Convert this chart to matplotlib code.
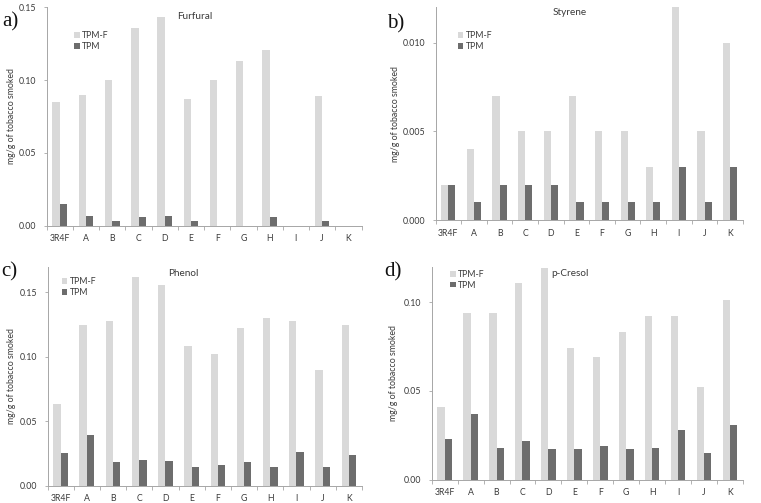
import matplotlib
matplotlib.use("Agg")
import matplotlib.pyplot as plt
import numpy as np

plt.rcParams['font.family'] = ['Lato', 'DejaVu Sans']

categories = ["3R4F", "A", "B", "C", "D", "E", "F", "G", "H", "I", "J", "K"]
series_names = ["TPM-F", "TPM"]

furfural_tpmf = [0.085, 0.090, 0.100, 0.136, 0.143, 0.087, 0.100, 0.113, 0.121, 0.0, 0.089, 0.0]
furfural_tpm = [0.015, 0.007, 0.003, 0.006, 0.007, 0.003, 0.0, 0.0, 0.006, 0.0, 0.003, 0.0]

styrene_tpmf = [0.002, 0.004, 0.007, 0.005, 0.005, 0.007, 0.005, 0.005, 0.003, 0.012, 0.005, 0.010]
styrene_tpm = [0.002, 0.001, 0.002, 0.002, 0.002, 0.001, 0.001, 0.001, 0.001, 0.003, 0.001, 0.003]

phenol_tpmf = [0.063, 0.125, 0.128, 0.162, 0.156, 0.108, 0.102, 0.122, 0.130, 0.128, 0.090, 0.125]
phenol_tpm = [0.025, 0.039, 0.018, 0.020, 0.019, 0.014, 0.016, 0.018, 0.014, 0.026, 0.014, 0.024]

cresol_tpmf = [0.041, 0.094, 0.094, 0.111, 0.119, 0.074, 0.069, 0.083, 0.092, 0.092, 0.052, 0.101]
cresol_tpm = [0.023, 0.037, 0.018, 0.022, 0.017, 0.017, 0.019, 0.017, 0.018, 0.028, 0.015, 0.031]

titles = ["Furfural", "Styrene", "Phenol", "p-Cresol"]
panel_labels = ["a)", "b)", "c)", "d)"]
yticks_list = [[0.0, 0.05, 0.10, 0.15], [0.0, 0.005, 0.010], [0.0, 0.05, 0.10, 0.15], [0.0, 0.05, 0.10]]
ytick_fmt = ["{:.2f}", "{:.3f}", "{:.2f}", "{:.2f}"]
ylims = [0.15, 0.012, 0.17, 0.12]

W, H = 761, 503
fig = plt.figure(figsize=(W / 100, H / 100), dpi=100)

# axes rectangles in pixels: left, right, top, bottom
rects_px = [(46.7, 361.5, 7.3, 225.7),
            (435.5, 743, 7.0, 220.2),
            (47.5, 362, 266.7, 485.5),
            (431.7, 743, 266.7, 479.6)]
title_pos = [(0.47, 0.958), (0.436, 0.972), (0.433, 0.971), (0.444, 0.970)]
legend_pos = [(0.088, 0.845), (0.072, 0.84), (0.046, 0.907), (0.06, 0.939)]
label_pos_px = [(2, 26), (387, 28), (1, 276), (384, 276)]
ylabel_x_px = [12, 396, 12, 394]

light = "#d9d9d9"
dark = "#6d6d6d"
spine_c = "#a6a6a6"
text_c = "#3a3a3a"

data = [(furfural_tpmf, furfural_tpm), (styrene_tpmf, styrene_tpm),
        (phenol_tpmf, phenol_tpm), (cresol_tpmf, cresol_tpm)]

fs = 6.3
x = np.arange(len(categories))
bw = 0.28
for k in range(4):
    l, r, t, b = rects_px[k]
    ax = fig.add_axes([l / W, 1 - b / H, (r - l) / W, (b - t) / H])
    v1, v2 = data[k]
    ax.bar(x - bw / 2, v1, bw, color=light, label=series_names[0])
    ax.bar(x + bw / 2, v2, bw, color=dark, label=series_names[1])
    ax.set_xlim(-0.5, len(categories) - 0.5)
    ax.set_ylim(0, ylims[k])
    ax.set_xticks(x)
    ax.set_xticklabels(categories, fontsize=fs, color=text_c)
    ax.set_xticks(np.arange(len(categories) + 1) - 0.5, minor=True)
    ax.tick_params(axis='x', which='major', length=0, pad=6)
    ax.tick_params(axis='x', which='minor', length=3, color=spine_c, width=0.6)
    ax.set_yticks(yticks_list[k])
    ax.set_yticklabels([ytick_fmt[k].format(v) for v in yticks_list[k]], fontsize=fs, color=text_c)
    ax.tick_params(axis='y', length=2.5, color=spine_c, width=0.6, pad=5)
    for s in ["top", "right"]:
        ax.spines[s].set_visible(False)
    for s in ["left", "bottom"]:
        ax.spines[s].set_color(spine_c)
        ax.spines[s].set_linewidth(0.7)
    ax.text(title_pos[k][0], title_pos[k][1], titles[k], transform=ax.transAxes,
            ha='center', va='center', fontsize=7.2, color=text_c)
    leg = ax.legend(loc='center left', bbox_to_anchor=legend_pos[k], frameon=False,
                    fontsize=fs, handlelength=0.6, handleheight=0.6, handletextpad=0.3,
                    labelspacing=0.2, borderpad=0, borderaxespad=0)
    for txt in leg.get_texts():
        txt.set_color(text_c)
    # y label
    yc = 1 - ((t + b) / 2) / H
    fig.text(ylabel_x_px[k] / W, yc, "mg/g of tobacco smoked", rotation=90,
             ha='center', va='center', fontsize=fs, color=text_c)
    fig.text(label_pos_px[k][0] / W, 1 - label_pos_px[k][1] / H, panel_labels[k],
             family='Liberation Serif', fontsize=15, ha='left', va='baseline', color="#111111")

fig.savefig("out.png", dpi=100)
